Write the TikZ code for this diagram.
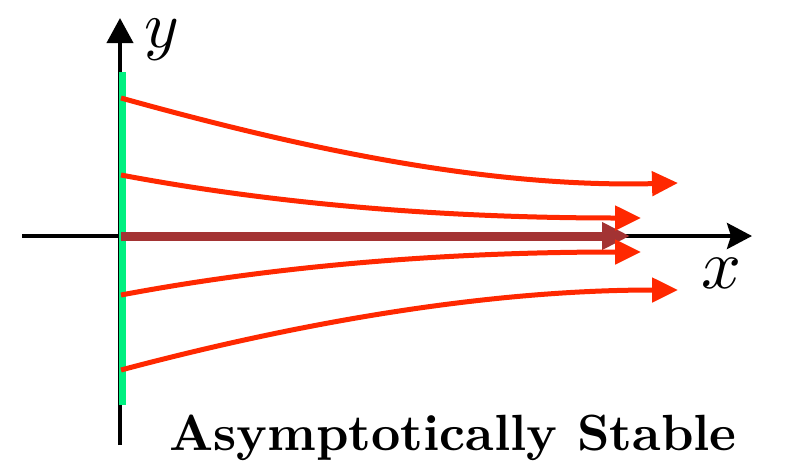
\documentclass[tikz,border=0pt]{standalone}
\usetikzlibrary{arrows.meta}
\definecolor{trajred}{RGB}{255,40,0}
\definecolor{eqbrown}{RGB}{163,51,51}
\definecolor{barGreen}{RGB}{0,240,128}
\begin{document}
\begin{tikzpicture}[x=1pt,y=-1pt,
  axis/.style={line width=4pt,-{Stealth[length=25pt,width=26pt,inset=4pt]}},
  traj/.style={trajred,line width=5pt,-{Triangle[length=26pt,width=24pt]}},
  eqline/.style={eqbrown,line width=9pt,-{Triangle[length=28pt,width=26pt]}},
  lbl/.style={inner sep=0pt}]
\useasboundingbox (0,0) rectangle (787,464);
% axes
\coordinate (yb) at (120,445);
\coordinate (yt) at (120,18);
\coordinate (xl) at (22,236);
\coordinate (xr) at (752,236);
\draw[axis,-{Triangle[length=25pt,width=26pt]}] (yb) -- (yt);
\draw[axis] (xl) -- (xr);
% green bar
\coordinate (gb) at (122.5,405);
\coordinate (gt) at (122.5,72);
\draw[barGreen,line width=7pt] (gb) -- (gt);
% equilibrium
\coordinate (e0) at (121,236);
\coordinate (e1) at (630,236);
\draw[eqline] (e0) -- (e1);
% trajectories
\coordinate (a0) at (121,98);  \coordinate (a1) at (678,183);
\coordinate (b0) at (121,175); \coordinate (b1) at (641,218);
\coordinate (c0) at (121,295); \coordinate (c1) at (641,252);
\coordinate (d0) at (121,370); \coordinate (d1) at (678,290);
\draw[traj] (a0) .. controls (290,145) and (480,188) .. (a1);
\draw[traj] (b0) .. controls (280,205) and (450,218) .. (b1);
\draw[traj] (c0) .. controls (280,265) and (450,252) .. (c1);
\draw[traj] (d0) .. controls (290,325) and (480,290) .. (d1);
% labels
\node[lbl] (ylab) at (162,40) {\scalebox{6.6}{$y$}};
\node[lbl] (xlab) at (721,273) {\scalebox{7}{$x$}};
\node[inner sep=0pt,anchor=base] (title) at (453,450)
  {\resizebox{567pt}{!}{\bfseries Asymptotically Stable}};
\end{tikzpicture}
\end{document}
